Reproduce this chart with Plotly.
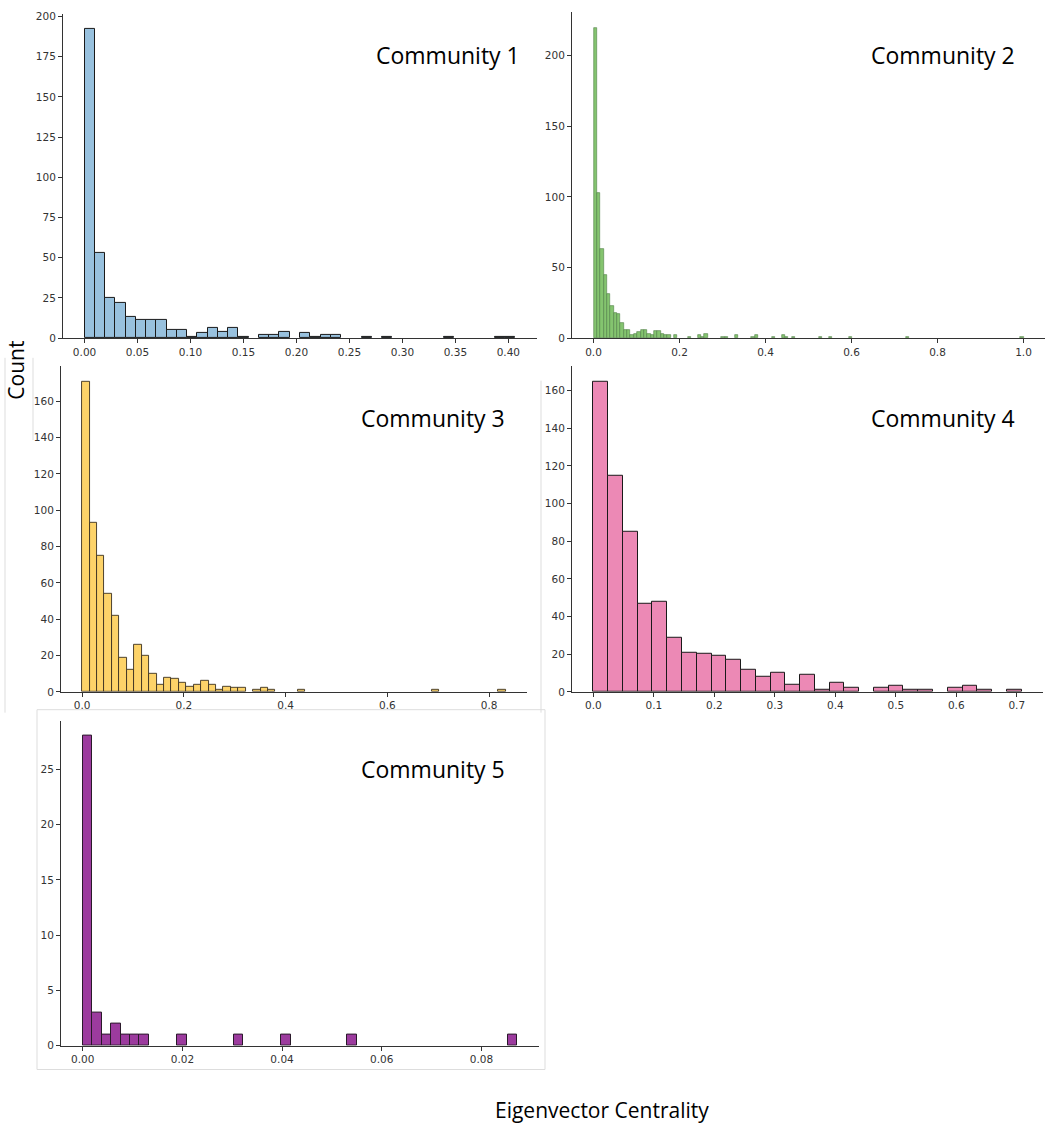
import numpy as np
import plotly.graph_objects as go

W, H = 1052, 1130

# ---------------- data (histogram counts) ----------------
c1_max = 0.4067
c1_counts = [192, 53, 25, 22, 13, 11, 11, 11, 5, 5, 1, 3, 6, 4, 6, 1, 0, 2, 2, 4,
             0, 3, 1, 2, 2, 0, 0, 1, 0, 1, 0, 0, 0, 0, 0, 1, 0, 0, 0, 0, 1, 1]

c2_max = 1.0
c2_counts = [0] * 128
_c2_head = [220, 103, 63, 45, 31, 23, 18, 17, 11, 6, 6, 2, 3, 4, 6, 6, 3, 2, 5, 5,
            3, 2, 2, 0, 2]
for _i, _v in enumerate(_c2_head):
    c2_counts[_i] = _v
_c2_tail = {28: 1, 31: 2, 32: 1, 33: 3, 38: 1, 39: 1, 42: 2, 47: 1, 48: 2, 53: 1,
            56: 2, 57: 1, 59: 1, 67: 1, 70: 1, 76: 1, 93: 1, 127: 1}
for _i, _v in _c2_tail.items():
    c2_counts[_i] = _v

c3_max = 0.833
c3_counts = [171, 93, 75, 54, 42, 19, 12, 26, 20, 10, 4, 8, 7, 5, 3, 4, 6, 4, 1, 3,
             2, 2, 0, 1, 2, 1, 0, 0, 0, 1, 0, 0, 0, 0, 0, 0, 0, 0, 0, 0,
             0, 0, 0, 0, 0, 0, 0, 1, 0, 0, 0, 0, 0, 0, 0, 0, 1]

c4_max = 0.708
c4_counts = [165, 115, 85, 47, 48, 29, 21, 20, 19, 17, 12, 8, 10, 4, 9, 1, 5, 2, 0, 2,
             3, 1, 1, 0, 2, 3, 1, 0, 1]

c5_max = 0.0872
c5_counts = [28, 3, 1, 2, 1, 1, 1, 0, 0, 0, 1, 0, 0, 0, 0, 0, 1, 0, 0, 0,
             0, 1, 0, 0, 0, 0, 0, 0, 1, 0, 0, 0, 0, 0, 0, 0, 0, 0, 0, 0,
             0, 0, 0, 0, 0, 1]

titles = ["Community 1", "Community 2", "Community 3", "Community 4", "Community 5"]
x_ticks = [
    [0.00, 0.05, 0.10, 0.15, 0.20, 0.25, 0.30, 0.35, 0.40],
    [0.0, 0.2, 0.4, 0.6, 0.8, 1.0],
    [0.0, 0.2, 0.4, 0.6, 0.8],
    [0.0, 0.1, 0.2, 0.3, 0.4, 0.5, 0.6, 0.7],
    [0.00, 0.02, 0.04, 0.06, 0.08],
]
x_fmt = [".2f", ".1f", ".1f", ".1f", ".2f"]
y_ticks = [
    [0, 25, 50, 75, 100, 125, 150, 175, 200],
    [0, 50, 100, 150, 200],
    [0, 20, 40, 60, 80, 100, 120, 140, 160],
    [0, 20, 40, 60, 80, 100, 120, 140, 160],
    [0, 5, 10, 15, 20, 25],
]
x_label = "Eigenvector Centrality"
y_label = "Count"

# ---------------- styles ----------------
fills = ["#98c1de", "#84c46f", "#fdd369", "#ec89b5", "#9c3b9e"]
edges = ["#1a1a1a", "#4f7f45", "#3a3020", "#1a1a1a", "#2a1a2a"]
edge_w = [1.0, 0.6, 0.9, 1.0, 1.0]

# axes boxes in pixels: (left, right, top, bottom)
boxes = [
    (63, 537, 10, 337),
    (572, 1045, 8, 337),
    (61, 527, 365, 694),
    (572, 1043, 365, 694),
    (61, 539, 723, 1051),
]
title_pos = [(448, 51), (943, 51), (433, 418), (943, 418), (433, 772)]

all_counts = [c1_counts, c2_counts, c3_counts, c4_counts, c5_counts]
all_max = [c1_max, c2_max, c3_max, c4_max, c5_max]

fig = go.Figure()
layout = dict(
    width=W, height=H, margin=dict(l=0, r=0, t=0, b=0),
    paper_bgcolor="white", plot_bgcolor="white", showlegend=False,
    bargap=0, font=dict(family="DejaVu Sans", color="#333333", size=10.5),
)
annotations = []

for k in range(5):
    counts = np.array(all_counts[k], dtype=float)
    n = len(counts)
    edges_x = np.linspace(0, all_max[k], n + 1)
    centers = (edges_x[:-1] + edges_x[1:]) / 2
    bw = edges_x[1] - edges_x[0]
    mask = counts > 0
    xa = "x" if k == 0 else f"x{k+1}"
    ya = "y" if k == 0 else f"y{k+1}"
    fig.add_trace(go.Bar(
        x=centers[mask], y=counts[mask], width=bw,
        marker=dict(color=fills[k], line=dict(color=edges[k], width=edge_w[k])),
        xaxis=xa, yaxis=ya, hoverinfo="x+y",
    ))
    l, r, t, b = boxes[k]
    xmarg = 0.05 * all_max[k]
    ymax = counts.max() * 1.05
    xkey = "xaxis" if k == 0 else f"xaxis{k+1}"
    ykey = "yaxis" if k == 0 else f"yaxis{k+1}"
    layout[xkey] = dict(
        domain=[l / W, r / W], anchor=ya, range=[-xmarg, all_max[k] + xmarg],
        tickvals=x_ticks[k], tickformat=x_fmt[k], ticks="outside", ticklen=4,
        tickcolor="#333333", showline=True, linecolor="#333333", linewidth=1,
        showgrid=False, zeroline=False, tickfont=dict(size=10.5, color="#333333"),
    )
    layout[ykey] = dict(
        domain=[1 - b / H, 1 - t / H], anchor=xa, range=[0, ymax],
        tickvals=y_ticks[k], ticks="outside", ticklen=4,
        tickcolor="#333333", showline=True, linecolor="#333333", linewidth=1,
        showgrid=False, zeroline=False, tickfont=dict(size=10.5, color="#333333"),
    )
    tx, ty = title_pos[k]
    annotations.append(dict(
        x=tx / W, y=1 - ty / H, xref="paper", yref="paper", text=titles[k],
        showarrow=False, xanchor="center", yanchor="middle",
        font=dict(family="Open Sans", size=23, color="black"),
    ))

annotations.append(dict(
    x=602 / W, y=1 - 1116 / H, xref="paper", yref="paper", text=x_label,
    showarrow=False, xanchor="center", yanchor="middle",
    font=dict(family="Open Sans", size=21, color="black"),
))
annotations.append(dict(
    x=16 / W, y=1 - 370 / H, xref="paper", yref="paper", text=y_label,
    showarrow=False, xanchor="center", yanchor="middle", textangle=-90,
    font=dict(family="Open Sans", size=21, color="black"),
))
layout["annotations"] = annotations

# faint screenshot borders around the pasted panels
border = "#dddddd"
layout["shapes"] = [
    dict(type="line", xref="paper", yref="paper", x0=5 / W, x1=5 / W,
         y0=1 - 715 / H, y1=1 - 357 / H, line=dict(color=border, width=1)),
    dict(type="line", xref="paper", yref="paper", x0=33 / W, x1=33 / W,
         y0=1 - 440 / H, y1=1 - 357 / H, line=dict(color=border, width=1)),
    dict(type="line", xref="paper", yref="paper", x0=541 / W, x1=541 / W,
         y0=1 - 715 / H, y1=1 - 380 / H, line=dict(color=border, width=1)),
    dict(type="rect", xref="paper", yref="paper", x0=37 / W, x1=545 / W,
         y0=1 - 1075 / H, y1=1 - 712 / H, line=dict(color=border, width=1)),
]

fig.update_layout(**layout)
fig.write_html(
    "out.html",
    config={"displayModeBar": False},
    post_script="document.body.style.margin='0px';document.body.style.overflow='hidden';",
)
